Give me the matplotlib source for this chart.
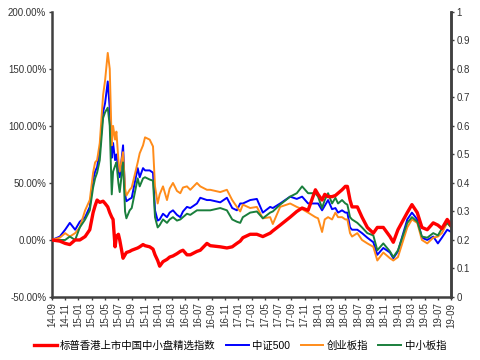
import numpy as np
import matplotlib
matplotlib.use('Agg')
import matplotlib.pyplot as plt

plt.rcParams['font.family'] = ['Liberation Sans', 'Noto Sans CJK SC', 'DejaVu Sans']

# months since 2014-09
t = [0, 1.2, 2.0, 2.7, 3.5, 4.2, 5.0, 5.7, 6.2, 6.5, 6.8, 7.2, 7.7, 8.0, 8.4, 8.7, 9.0, 9.2, 9.5, 9.7,
     10.0, 10.2, 10.7, 11.0, 11.2, 11.7, 12.0, 12.9, 13.2, 13.7, 14.0, 14.7, 15.2, 15.5, 15.9, 16.2, 16.7,
     17.3, 17.7, 18.2, 18.8, 19.3, 19.7, 20.3, 20.8, 21.8, 22.3, 23.3, 23.8, 25.3, 26.3, 27.1, 27.8, 28.3,
     28.7, 29.8, 30.8, 31.7, 32.8, 33.2, 34.3, 35.8, 36.8, 37.6, 38.5, 39.6, 40.0, 40.6, 41.0, 41.5, 42.1,
     42.6, 43.0, 43.6, 44.1, 44.4, 44.8, 45.1, 45.9, 46.6, 47.4, 48.3, 48.9, 49.8, 50.8, 51.3, 52.0, 53.4,
     54.1, 54.9, 55.6, 56.4, 57.3, 58.0, 58.6, 59.4, 60.0]

sp_hk = [0, -1, -3, -4, 0, 0, 3, 9, 24, 30, 35, 33, 34, 32, 29, 24, 20, 18, -6, 3,
         5, 0, -16, -13, -11, -10, -9, -7, -6, -4, -5, -6, -8, -13, -18, -23, -19,
         -17, -15, -14, -12, -10, -9, -13, -13, -10, -9, -3, -5, -6, -7, -6, -3, -1,
         2, 5, 5, 3, 6, 8, 13, 20, 25, 28, 26, 44, 40, 35, 40, 38, 38,
         39, 41, 44, 47, 47, 35, 29, 29, 20, 11, 6, 11, 11, 3, -2, 9, 24,
         31, 24, 11, 9, 15, 13, 10, 18, 13]

zz500 = [0, 3, 9, 15, 9, 16, 20, 29, 53, 60, 64, 78, 112, 120, 139, 115, 72, 85, 70, 75,
         62, 55, 83, 40, 34, 36, 37, 63, 55, 63, 61, 61, 59, 26, 17, 18, 23,
         20, 24, 26, 22, 20, 25, 29, 28, 32, 37, 35, 35, 33, 37, 28, 26, 32,
         32, 35, 36, 24, 29, 28, 32, 38, 36, 38, 32, 32, 32, 26, 30, 35, 27,
         28, 24, 26, 24, 24, 11, 9, 9, 6, 2, -2, -13, -7, -11, -16, -10, 18,
         24, 18, 2, 0, 3, -3, 2, 9, 7]

cyb = [0, 2, 6, 3, 6, 11, 26, 35, 59, 68, 70, 85, 127, 140, 164, 150, 83, 100, 88, 95,
       70, 60, 77, 45, 39, 44, 46, 68, 76, 83, 90, 88, 82, 47, 32, 40, 47,
       35, 45, 50, 43, 41, 46, 47, 44, 50, 47, 44, 44, 42, 44, 35, 29, 25,
       31, 28, 29, 19, 20, 14, 29, 32, 29, 27, 24, 20, 19, 7, 18, 20, 18,
       24, 20, 20, 18, 18, 6, 3, 6, 0, -3, -6, -18, -11, -16, -18, -15, 11,
       18, 15, 0, -3, 2, 3, 6, 15, 11]

zxb = [0, 0, 0, 3, 0, 11, 18, 26, 46, 54, 59, 70, 107, 112, 116, 100, 40, 60, 65, 68,
       50, 42, 68, 25, 19, 26, 28, 54, 47, 54, 55, 53, 52, 20, 11, 13, 18,
       15, 18, 20, 17, 18, 20, 23, 22, 26, 26, 26, 26, 28, 26, 18, 16, 15,
       20, 24, 25, 19, 24, 25, 31, 38, 41, 47, 41, 41, 38, 28, 35, 41, 32,
       37, 32, 35, 32, 31, 20, 18, 15, 11, 6, 4, -9, -3, -10, -15, -9, 15,
       20, 16, 3, 2, 6, 4, 10, 15, 11]

names = ['标普香港上市中国中小盘精选指数', '中证500', '创业板指', '中小板指']
colors = ['#ff0000', '#0000ff', '#ff8c1a', '#1a7f3c']

xticks = list(range(0, 61, 2))
xlabels = ['14-09', '14-11', '15-01', '15-03', '15-05', '15-07', '15-09', '15-11',
           '16-01', '16-03', '16-05', '16-07', '16-09', '16-11', '17-01', '17-03',
           '17-05', '17-07', '17-09', '17-11', '18-01', '18-03', '18-05', '18-07',
           '18-09', '18-11', '19-01', '19-03', '19-05', '19-07', '19-09']
yticks = [-50, 0, 50, 100, 150, 200]
rticks = [0, 0.1, 0.2, 0.3, 0.4, 0.5, 0.6, 0.7, 0.8, 0.9, 1]

fig = plt.figure(figsize=(4.8, 3.6), dpi=100)
ax = fig.add_axes([0.108, 0.175, 0.832, 0.792])

series = [sp_hk, zz500, cyb, zxb]
widths = [2.4, 1.4, 1.4, 1.4]
zs = [5, 2, 3, 4]
for s, n, c, w, z in zip(series, names, colors, widths, zs):
    ax.plot(t, s, color=c, lw=w, label=n, zorder=z)

ax.set_xlim(0, 60)
ax.set_ylim(-50, 200)
ax.set_yticks(yticks)
ax.set_yticklabels(['%.2f%%' % v for v in yticks], fontsize=7, color='#333333')
ax.set_xticks(xticks)
ax.set_xticklabels(xlabels, rotation=90, fontsize=7, color='#333333')

ax2 = ax.twinx()
ax2.set_ylim(0, 1)
ax2.set_yticks(rticks)
ax2.set_yticklabels(['%g' % v for v in rticks], fontsize=7, color='#333333')

for a in (ax, ax2):
    a.spines['top'].set_visible(False)
    for k in ('left', 'right', 'bottom'):
        a.spines[k].set_linewidth(1.8)
        a.spines[k].set_color('#404040')
    a.tick_params(length=2, width=1, color='#404040', pad=2)
ax2.spines['left'].set_visible(False)
ax2.spines['bottom'].set_visible(False)

h, l = ax.get_legend_handles_labels()
fig.legend(h, l, loc='lower center', bbox_to_anchor=(0.5, 0.0), ncol=4, frameon=False,
           fontsize=7.5, handlelength=2.2, columnspacing=1.0, handletextpad=0.3)

fig.savefig('out.png', dpi=100)
